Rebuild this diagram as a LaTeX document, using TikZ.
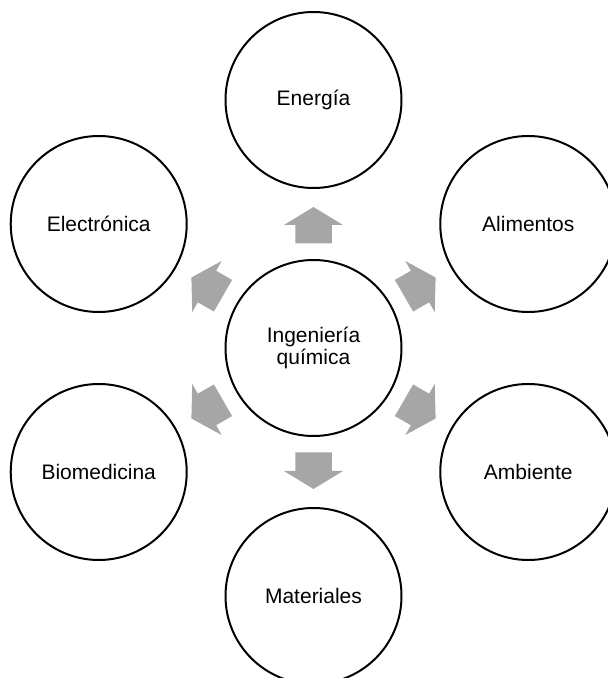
\documentclass[tikz,border=0pt]{standalone}
\usepackage{fontspec}
\setmainfont{Liberation Sans}
\usetikzlibrary{calc}
\definecolor{arrowgray}{RGB}{166,166,166}
\begin{document}
\begin{tikzpicture}[x=1pt,y=1pt,
  circ/.style={circle, draw=black, line width=2pt, minimum size=176pt, inner sep=0pt,
    font=\fontsize{21}{22}\selectfont, align=center},
  blockarrow/.style={fill=arrowgray, draw=none}]
\useasboundingbox (0,0) rectangle (608,678);
\clip (0,0) rectangle (608,678);
\coordinate (o) at (313.5,330);
\node[circ] (c) at (o) {Ingeniería\\química};
\node[circ] (ene) at ($(o)+(90:248)$) {Energía};
\node[circ] (ali) at ($(o)+(30:248)$) {Alimentos};
\node[circ] (amb) at ($(o)+(-30:248)$) {Ambiente};
\node[circ] (mat) at ($(o)+(-90:248)$) {Materiales};
\node[circ] (bio) at ($(o)+(210:248)$) {Biomedicina};
\node[circ] (ele) at ($(o)+(150:248)$) {Electrónica};
\foreach \a in {90,30,-30,-90,210,150}{
  \begin{scope}[shift={(c.center)}, rotate=\a]
    \fill[blockarrow] (104.5,-18.25) -- (123,-18.25) -- (123,-29.5) -- (141,0)
      -- (123,29.5) -- (123,18.25) -- (104.5,18.25) -- cycle;
  \end{scope}
}
\end{tikzpicture}
\end{document}
